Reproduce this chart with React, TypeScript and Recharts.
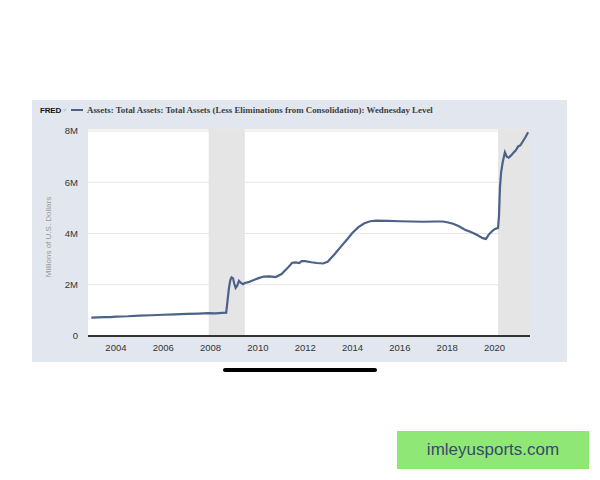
import {
  LineChart,
  Line,
  XAxis,
  YAxis,
  CartesianGrid,
  ReferenceArea,
} from "recharts";

// Fed balance sheet, weekly level (decimal year, millions of USD)
const dates = [
  2002.96, 2003.25, 2003.5, 2003.75, 2004.0, 2004.5, 2005.0, 2005.5, 2006.0, 2006.5,
  2007.0, 2007.5, 2007.9, 2008.2, 2008.5, 2008.66, 2008.72, 2008.78, 2008.84, 2008.89,
  2008.95, 2009.0, 2009.06, 2009.12, 2009.2, 2009.27, 2009.37, 2009.45, 2009.6, 2009.8,
  2010.0, 2010.25, 2010.5, 2010.75, 2011.0, 2011.25, 2011.45, 2011.6, 2011.75, 2011.85,
  2012.0, 2012.25, 2012.5, 2012.75, 2012.95, 2013.25, 2013.5, 2013.75, 2014.0, 2014.25,
  2014.5, 2014.75, 2015.0, 2015.5, 2016.0, 2016.5, 2017.0, 2017.5, 2017.8, 2018.0,
  2018.25, 2018.5, 2018.75, 2019.0, 2019.25, 2019.5, 2019.64, 2019.75, 2019.85, 2020.0,
  2020.15, 2020.19, 2020.23, 2020.28, 2020.35, 2020.44, 2020.52, 2020.6, 2020.7, 2020.8,
  2020.9, 2021.0, 2021.1, 2021.2, 2021.3, 2021.42,
];

const totalAssets = [
  719000, 725000, 735000, 740000, 760000, 770000, 795000, 810000, 830000, 845000,
  865000, 875000, 890000, 885000, 900000, 910000, 1400000, 1900000, 2200000, 2290000,
  2250000, 2050000, 1880000, 1950000, 2150000, 2080000, 2020000, 2070000, 2100000, 2180000,
  2250000, 2320000, 2330000, 2300000, 2420000, 2650000, 2860000, 2870000, 2850000, 2920000,
  2920000, 2880000, 2850000, 2830000, 2900000, 3200000, 3480000, 3750000, 4030000, 4250000,
  4400000, 4480000, 4500000, 4490000, 4480000, 4470000, 4460000, 4470000, 4470000, 4440000,
  4380000, 4280000, 4150000, 4060000, 3950000, 3820000, 3790000, 3950000, 4050000, 4170000,
  4220000, 4700000, 5800000, 6400000, 6800000, 7170000, 7000000, 6960000, 7050000, 7150000,
  7250000, 7400000, 7450000, 7600000, 7750000, 7950000,
];

const yearTicks = [2004, 2006, 2008, 2010, 2012, 2014, 2016, 2018, 2020];
const valueTicks = [0, 2000000, 4000000, 6000000, 8000000];

// recession periods (start, end)
const recessions = [
  [2007.92, 2009.45],
  [2020.15, 2021.5],
];

const data = dates.map((d, i) => ({ date: d, value: totalAssets[i] }));

const tickStyle = { fill: "#333", fontSize: 9.5, fontFamily: "Liberation Sans, Arial, sans-serif" };

export default function App() {
  return (
    <div
      style={{
        position: "absolute",
        left: 0,
        top: 0,
        width: 600,
        height: 480,
        background: "#fff",
        overflow: "hidden",
      }}
    >
      {/* FRED panel */}
      <div
        style={{
          position: "absolute",
          left: 32,
          top: 100,
          width: 535,
          height: 262,
          background: "#e2e7ef",
        }}
      />

      {/* Title */}
      <div
        style={{
          position: "absolute",
          left: 40,
          top: 105,
          display: "flex",
          alignItems: "center",
          whiteSpace: "nowrap",
        }}
      >
        <span
          style={{
            fontFamily: "Liberation Sans, Arial, sans-serif",
            fontWeight: 900,
            fontSize: 8,
            color: "#111",
            letterSpacing: -0.2,
          }}
        >
          FRED
        </span>
        <span style={{ fontSize: 6, color: "#aaa", marginLeft: 2 }}>⌿</span>
        <span
          style={{
            display: "inline-block",
            width: 12,
            height: 1.5,
            background: "#4b6289",
            marginLeft: 4,
            marginRight: 4,
          }}
        />
        <span
          style={{
            fontFamily: "Liberation Serif, Times New Roman, serif",
            fontWeight: 700,
            fontSize: 8.9,
            color: "#3d3d3d",
          }}
        >
          Assets: Total Assets: Total Assets (Less Eliminations from Consolidation): Wednesday Level
        </span>
      </div>

      {/* Y axis title */}
      <div
        style={{
          position: "absolute",
          left: 48,
          top: 237,
          transform: "translate(-50%, -50%) rotate(-90deg)",
          fontFamily: "Liberation Sans, Arial, sans-serif",
          fontSize: 8,
          color: "#999",
          whiteSpace: "nowrap",
        }}
      >
        Millions of U.S. Dollars
      </div>

      <div style={{ position: "absolute", left: 0, top: 0 }}>
        <LineChart
          width={600}
          height={480}
          data={data}
          margin={{ top: 129, right: 70, bottom: 114, left: 58 }}
        >
          <CartesianGrid vertical={false} stroke="#e6e6e6" fill="#fff" />
          {recessions.map(([a, b], i) => (
            <ReferenceArea
              key={i}
              x1={a}
              x2={b}
              fill="#e5e5e5"
              fillOpacity={1}
              stroke="none"
              ifOverflow="hidden"
            />
          ))}
          <XAxis
            dataKey="date"
            type="number"
            domain={[2002.82, 2021.5]}
            ticks={yearTicks}
            allowDataOverflow
            tickLine={false}
            axisLine={{ stroke: "#333", strokeWidth: 2 }}
            tick={tickStyle}
            height={30}
          />
          <YAxis
            type="number"
            domain={[0, 8080000]}
            ticks={valueTicks}
            allowDataOverflow
            tickLine={false}
            axisLine={false}
            tick={tickStyle}
            tickMargin={4}
            tickFormatter={(v: number) => (v === 0 ? "0" : `${v / 1000000}M`)}
            width={30}
          />
          <Line
            type="linear"
            dataKey="value"
            stroke="#4b6289"
            strokeWidth={2.2}
            dot={false}
            isAnimationActive={false}
          />
        </LineChart>
      </div>

      {/* phone home indicator */}
      <div
        style={{
          position: "absolute",
          left: 223,
          top: 368,
          width: 154,
          height: 4,
          borderRadius: 2,
          background: "#000",
        }}
      />

      {/* watermark */}
      <div
        style={{
          position: "absolute",
          left: 397,
          top: 431,
          width: 192,
          height: 38,
          background: "#8fe876",
          display: "flex",
          alignItems: "center",
          justifyContent: "center",
          fontFamily: "Liberation Sans, Arial, sans-serif",
          fontSize: 17,
          color: "#3b4a6a",
        }}
      >
        imleyusports.com
      </div>
    </div>
  );
}
